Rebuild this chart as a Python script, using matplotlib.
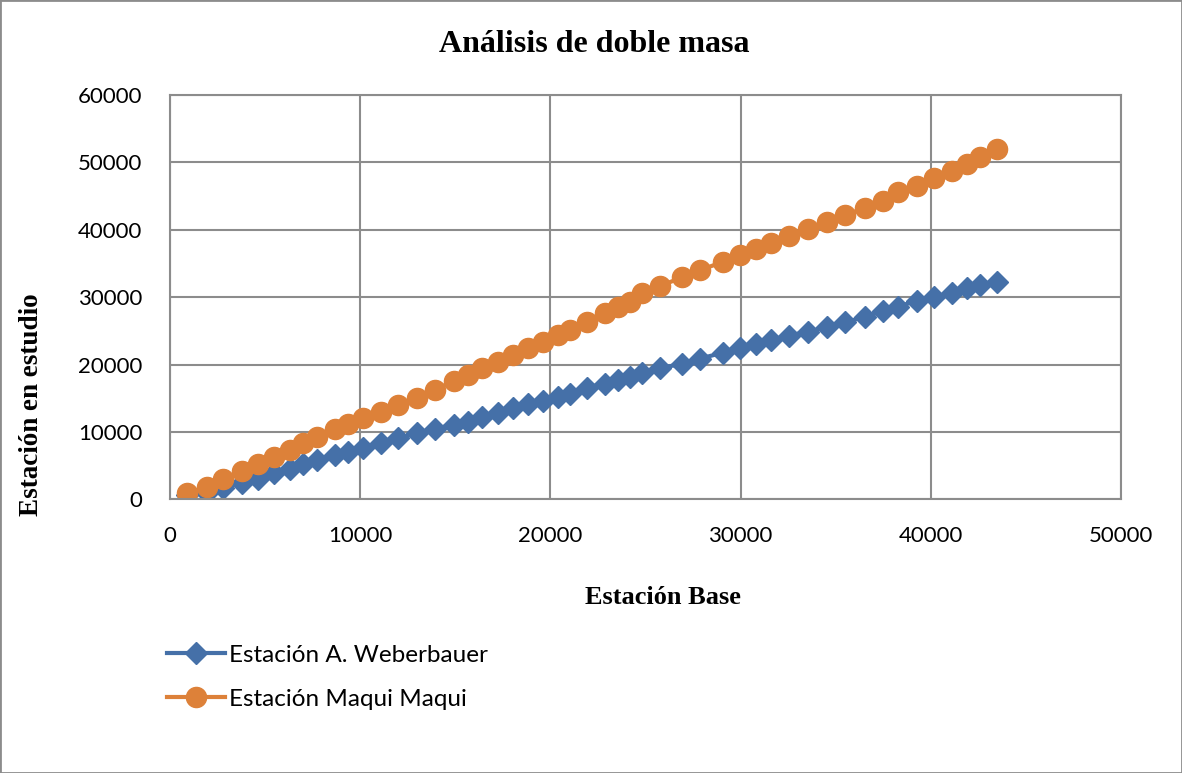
import numpy as np
import matplotlib
matplotlib.use('Agg')
import matplotlib.pyplot as plt

# Estación Base (acumulado) - comun a ambas series
base = [877, 1928, 2804, 3768, 4610, 5486, 6309, 6975, 7711, 8675,
        9341, 10165, 11100, 12000, 12970, 13930, 14950, 15650, 16400, 17270,
        18050, 18840, 19630, 20420, 21030, 21910, 22870, 23570, 24180, 24800,
        25760, 26900, 27870, 29090, 29970, 30790, 31600, 32540, 33530, 34530,
        35490, 36540, 37500, 38290, 39260, 40190, 41100, 41890, 42590, 43460]

weberbauer = [600, 1000, 1700, 2500, 3100, 3900, 4500, 5200, 5800, 6600,
              7000, 7600, 8400, 9100, 9800, 10500, 11100, 11500, 12300, 12900,
              13600, 14200, 14600, 15200, 15700, 16600, 17200, 17700, 18100, 18700,
              19500, 20100, 20900, 21800, 22500, 23000, 23600, 24300, 24900, 25600,
              26300, 27100, 28000, 28600, 29500, 30000, 30600, 31300, 31800, 32300]

maqui = [920, 1900, 3040, 4270, 5220, 6350, 7340, 8420, 9310, 10400,
         11190, 12100, 13020, 14010, 15000, 16230, 17650, 18460, 19450, 20430,
         21420, 22420, 23400, 24390, 25130, 26370, 27600, 28590, 29330, 30570,
         31650, 32940, 34030, 35260, 36200, 37090, 37980, 39110, 40060, 41190,
         42180, 43270, 44310, 45550, 46520, 47710, 48750, 49740, 50740, 51920]

xticks = [0, 10000, 20000, 30000, 40000, 50000]
yticks = [0, 10000, 20000, 30000, 40000, 50000, 60000]

W, H = 1182, 773
fig = plt.figure(figsize=(W / 100, H / 100), dpi=100)
ax = fig.add_axes([170 / W, 1 - 499.5 / H, (1121 - 170) / W, (499.5 - 95) / H])

ax.plot(base, weberbauer, color='#4570A8', lw=3, marker='D', ms=11.5,
        mec='#4570A8', label=u'Estación A. Weberbauer')
ax.plot(base, maqui, color='#DD8139', lw=3, marker='o', ms=14.5,
        mec='#DD8139', label=u'Estación Maqui Maqui')

ax.set_xlim(0, 50000)
ax.set_ylim(0, 60000)
ax.set_xticks(xticks)
ax.set_yticks(yticks)
ax.tick_params(length=0, labelsize=16)
ax.tick_params(axis='x', pad=19)
ax.tick_params(axis='y', pad=20)
for t in ax.get_xticklabels() + ax.get_yticklabels():
    t.set_family('Lato')
ax.grid(True, color='#8c8c8c', lw=1.5)
ax.set_axisbelow(True)
for s in ax.spines.values():
    s.set_color('#8c8c8c')
    s.set_linewidth(1.5)

serif = 'Liberation Serif'
fig.text(594 / W, 1 - 45 / H, u'Análisis de doble masa', ha='center', va='center',
         fontsize=23, fontweight='bold', family=serif)
fig.text(663 / W, 1 - 598 / H, u'Estación Base', ha='center', va='center',
         fontsize=19, fontweight='bold', family=serif)
fig.text(32 / W, 1 - 405 / H, u'Estación en estudio', ha='center', va='center',
         rotation=90, fontsize=19.5, fontweight='bold', family=serif)

fig.legend(loc='upper left', bbox_to_anchor=(145 / W, 1 - 623 / H), frameon=False,
           numpoints=1, handlelength=2.4, handletextpad=0.15, labelspacing=0.95,
           prop={'family': 'Lato', 'size': 17.5})

fig.add_artist(plt.Rectangle((0, 0), 1, 1, transform=fig.transFigure, fill=False,
                             ec='#8c8c8c', lw=2))

fig.savefig('out.png', dpi=100)
